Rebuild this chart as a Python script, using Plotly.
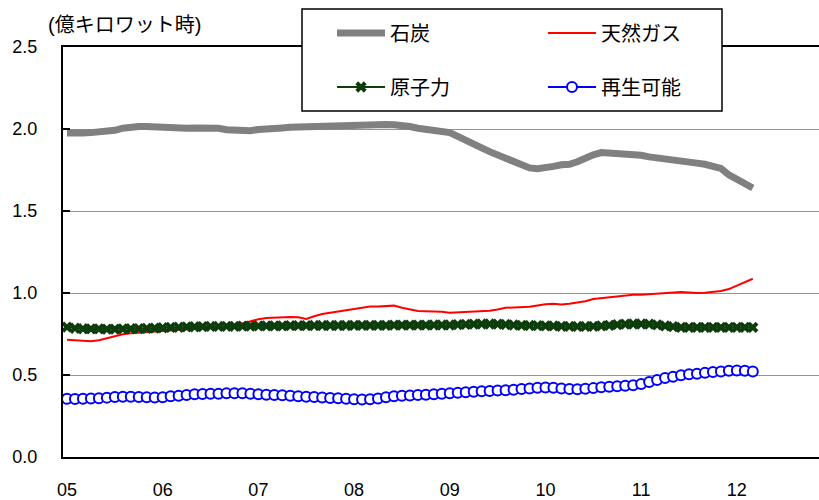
import plotly.graph_objects as go

# month index 0 = 2005-01 ... 86 = 2012-03
tick_vals = [0, 12, 24, 36, 48, 60, 72, 84]
tick_text = ["05", "06", "07", "08", "09", "10", "11", "12"]
y_ticks = [0.0, 0.5, 1.0, 1.5, 2.0, 2.5]

coal = [1.975, 1.972, 1.975, 1.978, 1.980, 1.985, 1.992, 2.005, 2.012, 2.015,
        2.015, 2.012, 2.003, 2.005, 2.006, 2.004, 2.006, 2.008, 2.010, 2.004,
        1.996, 1.993, 1.992, 1.990, 1.997, 2.003, 2.005, 2.006, 2.010, 2.012,
        2.014, 2.015, 2.018, 2.020, 2.022, 2.025, 2.027, 2.028, 2.030, 2.029,
        2.027, 2.026, 2.024, 2.015, 2.005, 1.998, 1.990, 1.985, 1.978, 1.955,
        1.935, 1.910, 1.885, 1.862, 1.840, 1.820, 1.800, 1.780, 1.763, 1.758,
        1.760, 1.772, 1.782, 1.785, 1.800, 1.825, 1.843, 1.856, 1.852, 1.850,
        1.850, 1.849, 1.840, 1.830, 1.822, 1.815, 1.810, 1.803, 1.798, 1.792,
        1.785, 1.776, 1.760, 1.720, 1.690, 1.665, 1.640]

gas = [0.715, 0.712, 0.710, 0.706, 0.712, 0.725, 0.738, 0.748, 0.755, 0.758,
       0.762, 0.765, 0.767, 0.770, 0.773, 0.776, 0.779, 0.782, 0.786, 0.790,
       0.795, 0.800, 0.812, 0.825, 0.840, 0.847, 0.850, 0.852, 0.853, 0.852,
       0.842, 0.858, 0.872, 0.880, 0.888, 0.896, 0.906, 0.913, 0.918, 0.918,
       0.920, 0.923, 0.910, 0.898, 0.890, 0.888, 0.888, 0.885, 0.880, 0.882,
       0.884, 0.885, 0.888, 0.892, 0.900, 0.910, 0.912, 0.913, 0.916, 0.924,
       0.932, 0.935, 0.930, 0.934, 0.940, 0.950, 0.963, 0.968, 0.972, 0.978,
       0.985, 0.990, 0.990, 0.993, 0.997, 1.000, 1.003, 1.006, 1.003, 1.000,
       1.002, 1.005, 1.012, 1.024, 1.045, 1.065, 1.087]

nuclear = [0.792, 0.785, 0.782, 0.781, 0.781, 0.780, 0.780, 0.781, 0.782, 0.783,
           0.784, 0.786, 0.788, 0.790, 0.791, 0.793, 0.794, 0.795, 0.796, 0.796,
           0.797, 0.797, 0.798, 0.798, 0.799, 0.800, 0.800, 0.800, 0.801, 0.801,
           0.801, 0.802, 0.802, 0.802, 0.802, 0.802, 0.803, 0.803, 0.803, 0.803,
           0.803, 0.804, 0.804, 0.804, 0.804, 0.804, 0.805, 0.805, 0.805, 0.807,
           0.809, 0.810, 0.811, 0.811, 0.810, 0.808, 0.805, 0.803, 0.802, 0.801,
           0.800, 0.799, 0.797, 0.796, 0.796, 0.796, 0.797, 0.799, 0.803, 0.807,
           0.810, 0.811, 0.811, 0.810, 0.806, 0.800, 0.795, 0.790, 0.790, 0.790,
           0.790, 0.790, 0.790, 0.790, 0.790, 0.790, 0.790]

renew = [0.355, 0.353, 0.355, 0.357, 0.358, 0.362, 0.366, 0.368, 0.368, 0.366,
         0.364, 0.363, 0.365, 0.370, 0.374, 0.378, 0.382, 0.384, 0.385, 0.386,
         0.388, 0.389, 0.389, 0.386, 0.383, 0.380, 0.378, 0.376, 0.373, 0.370,
         0.368, 0.366, 0.363, 0.360, 0.358, 0.355, 0.352, 0.350, 0.352, 0.357,
         0.364, 0.370, 0.373, 0.375, 0.378, 0.380, 0.383, 0.386, 0.389, 0.392,
         0.395, 0.398, 0.401, 0.403, 0.405, 0.407, 0.410, 0.414, 0.418, 0.422,
         0.424, 0.422, 0.418, 0.414, 0.413, 0.416, 0.420, 0.425, 0.428, 0.431,
         0.434, 0.438, 0.445, 0.458, 0.470, 0.482, 0.490, 0.498, 0.504, 0.508,
         0.513, 0.518, 0.522, 0.526, 0.528, 0.526, 0.522]

months = list(range(len(coal)))

names = ["石炭", "天然ガス", "原子力", "再生可能"]
unit_label = "(億キロワット時)"

JP = "Liberation Sans, Arial, Noto Sans CJK JP, sans-serif"

fig = go.Figure()
fig.add_trace(go.Scatter(x=months, y=coal, mode="lines", name=names[0],
                         line=dict(color="#808080", width=7), legend="legend"))
fig.add_trace(go.Scatter(x=months, y=gas, mode="lines", name=names[1],
                         line=dict(color="#ff0000", width=2), legend="legend2"))
fig.add_trace(go.Scatter(x=months, y=nuclear, mode="lines+markers", name=names[2],
                         line=dict(color="#0d3d0d", width=2),
                         marker=dict(symbol="x", size=10, color="#0d3d0d",
                                     line=dict(width=0)),
                         legend="legend3"))
fig.add_trace(go.Scatter(x=months, y=renew, mode="lines+markers", name=names[3],
                         line=dict(color="#0000ff", width=2),
                         marker=dict(symbol="circle", size=10, color="white",
                                     line=dict(color="#0000ff", width=2)),
                         legend="legend4"))

W, H = 819, 500
ml, mr, mt, mb = 63, 0, 47, 43
pw, ph = W - ml - mr, H - mt - mb

def px_x(p):
    return (p - ml) / pw

def px_y(p):
    return (H - mb - p) / ph

leg_font = dict(family="Noto Sans CJK JP, sans-serif", size=20, color="black")
def leg(xp, yp):
    return dict(x=px_x(xp), y=px_y(yp), xanchor="left", yanchor="middle",
                bgcolor="rgba(0,0,0,0)", borderwidth=0, font=leg_font,
                itemwidth=48, itemsizing="trace")

fig.update_layout(
    width=W, height=H,
    margin=dict(l=ml, r=mr, t=mt, b=mb),
    paper_bgcolor="white", plot_bgcolor="white",
    showlegend=True,
    legend=leg(332, 33),
    legend2=leg(543, 33),
    legend3=leg(332, 87),
    legend4=leg(543, 87),
    xaxis=dict(range=[-0.5, 94.3], tickmode="array", tickvals=tick_vals,
               ticktext=tick_text, showgrid=False, zeroline=False,
               showline=True, linecolor="black", linewidth=2, mirror=True,
               ticks="", tickfont=dict(family=JP, size=18, color="black"),
               ticklabelstandoff=15),
    yaxis=dict(range=[0, 2.5], tickmode="array", tickvals=y_ticks,
               ticktext=["%.1f" % v for v in y_ticks],
               showgrid=True, gridcolor="#3ad23a", gridwidth=1, zeroline=False,
               showline=True, linecolor="black", linewidth=2,
               ticks="inside", ticklen=7, tickcolor="black", tickwidth=1.5,
               tickfont=dict(family=JP, size=18, color="black"),
               ticklabelstandoff=20),
    shapes=[dict(type="rect", xref="paper", yref="paper",
                 x0=px_x(302), x1=px_x(722), y0=px_y(111), y1=px_y(9),
                 line=dict(color="black", width=1.5), fillcolor="white",
                 layer="above")],
    annotations=[dict(text=unit_label, xref="paper", yref="paper",
                      x=px_x(46), y=px_y(25), xanchor="left", yanchor="middle",
                      showarrow=False,
                      font=dict(family=JP, size=20, color="black"))],
)

fig.write_html("out.html")
